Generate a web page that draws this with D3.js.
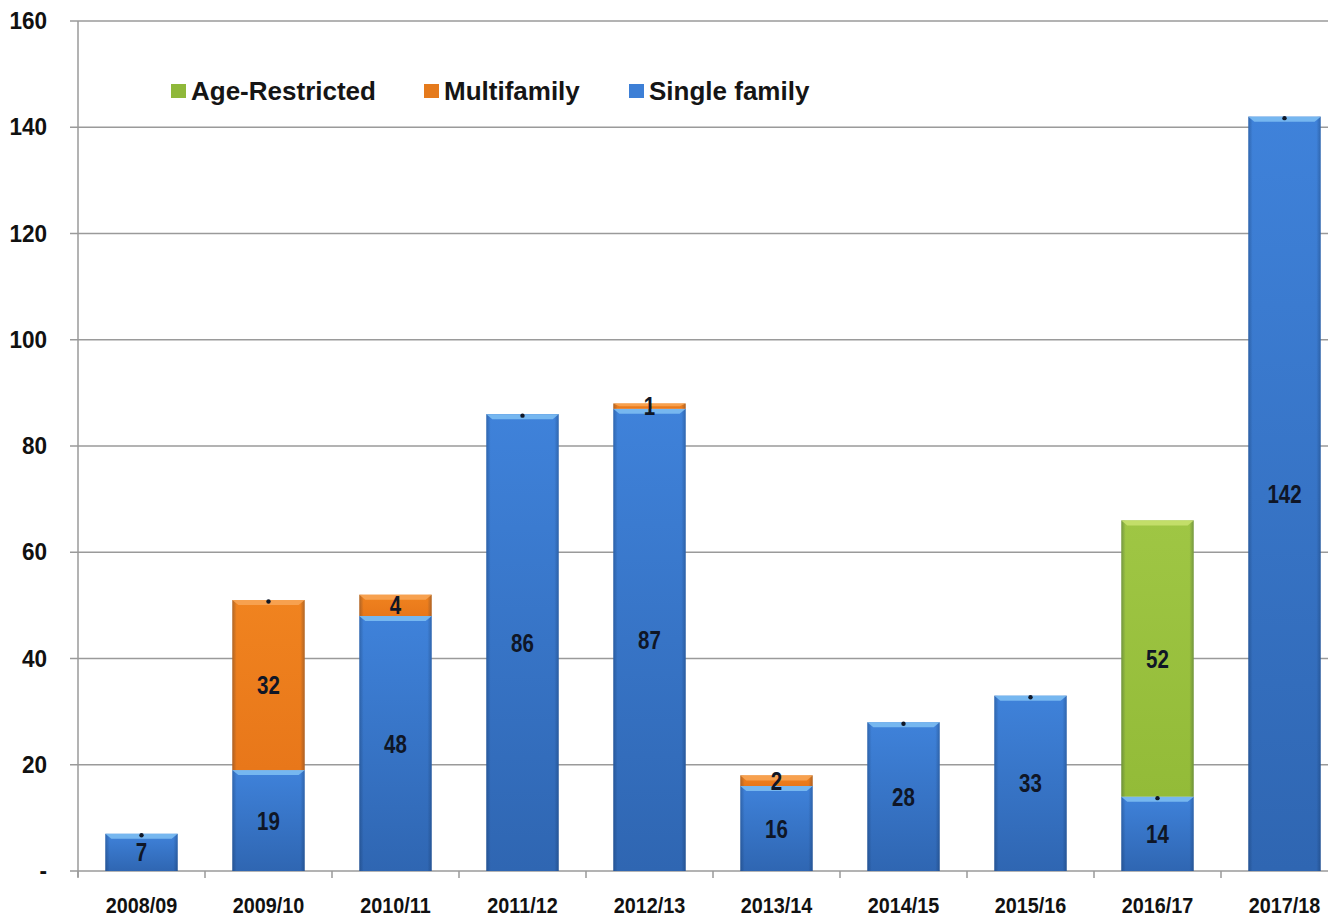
<!DOCTYPE html>
<html><head><meta charset="utf-8">
<script src="https://cdn.jsdelivr.net/npm/d3@7"></script>
<style>body{margin:0;background:#fff}svg{display:block}</style>
</head><body><svg id="c" width="1328" height="917"></svg>
<script>
const categories = ["2008/09","2009/10","2010/11","2011/12","2012/13","2013/14","2014/15","2015/16","2016/17","2017/18"];
const singleFamily = [7,19,48,86,87,16,28,33,14,142];
const multifamily = [0,32,4,0,1,2,0,0,0,0];
const ageRestricted = [0,0,0,0,0,0,0,0,52,0];
const yTicks = [0,20,40,60,80,100,120,140,160];
const seriesNames = ["Single family","Multifamily","Age-Restricted"];
const legendOrder = ["Age-Restricted","Multifamily","Single family"];

(function(){
const svg = d3.select("#c");
const mLeft = 78, mTop = 21, mBottom = 871;
const x = d3.scaleBand().domain(categories).range([mLeft, mLeft + 127*10]).paddingInner(0.43).paddingOuter(0.215);
const y = d3.scaleLinear().domain([0,160]).range([mBottom, mTop]);
const font = "'Liberation Sans',Arial,sans-serif";

const defs = svg.append("defs");
function vgrad(id, c1, c2){
  const g = defs.append("linearGradient").attr("id", id).attr("x1","0").attr("x2","0").attr("y1","0").attr("y2","1");
  g.append("stop").attr("offset","0").attr("stop-color",c1);
  g.append("stop").attr("offset","1").attr("stop-color",c2);
}
vgrad("gBlue","#3f82da","#2f66b2");
vgrad("gOrange","#f0831f","#e8771a");
vgrad("gGreen","#9fc644","#93bb38");
const eg = defs.append("linearGradient").attr("id","edge").attr("x1","0").attr("x2","1").attr("y1","0").attr("y2","0");
[[0,0.28],[0.06,0.0],[0.94,0.0],[1,0.28]].forEach(([o,a])=>eg.append("stop").attr("offset",o).attr("stop-color","#0a2040").attr("stop-opacity",a));
const fills = {"Single family":"url(#gBlue)","Multifamily":"url(#gOrange)","Age-Restricted":"url(#gGreen)"};
const tops = {"Single family":"#7cbcf2","Multifamily":"#f7a454","Age-Restricted":"#c6e06e"};
const swatch = {"Single family":"#3d7fd6","Multifamily":"#e57a1c","Age-Restricted":"#8fb83a"};

function ntext(g, tx, ty, str, size, anchor, sx){
  return g.append("text").attr("transform",`translate(${tx},${ty}) scale(${sx},1)`)
    .attr("text-anchor",anchor).attr("font-family",font).attr("font-weight","bold")
    .attr("font-size",size).attr("fill","#111").text(str);
}

svg.append("g").selectAll("line").data(yTicks).join("line")
  .attr("x1", mLeft-8).attr("x2", 1328).attr("y1", d=>y(d)).attr("y2", d=>y(d))
  .attr("stroke","#9a9a9a").attr("stroke-width",1.5);
svg.append("line").attr("x1",mLeft).attr("x2",mLeft).attr("y1",mTop).attr("y2",mBottom+6).attr("stroke","#9a9a9a").attr("stroke-width",1.5);
svg.append("g").selectAll("line").data(d3.range(0,11)).join("line")
  .attr("x1", i=>mLeft+127*i).attr("x2", i=>mLeft+127*i).attr("y1",mBottom).attr("y2",mBottom+7)
  .attr("stroke","#9a9a9a").attr("stroke-width",1.5);
const gy = svg.append("g");
yTicks.forEach(d=>ntext(gy, 47, y(d)+8, d===0 ? "-" : d, 23, "end", 0.98));
const gx = svg.append("g");
categories.forEach(d=>ntext(gx, x(d)+x.bandwidth()/2, 913, d, 22, "middle", 0.9));

const table = categories.map((c,i)=>({cat:c,"Single family":singleFamily[i],"Multifamily":multifamily[i],"Age-Restricted":ageRestricted[i]}));
const stack = d3.stack().keys(seriesNames)(table);

const gBars = svg.append("g");
stack.forEach(s=>{
  const key = s.key;
  const g = gBars.append("g");
  s.forEach(d=>{
    const v = d[1]-d[0];
    if (v<=0) return;
    const bx = x(d.data.cat), bw = x.bandwidth();
    const y0 = y(d[0]), y1 = y(d[1]);
    g.append("rect").attr("x",bx).attr("y",y1).attr("width",bw).attr("height",y0-y1).attr("fill",fills[key]);
    g.append("rect").attr("x",bx).attr("y",y1).attr("width",bw).attr("height",y0-y1).attr("fill","url(#edge)");
    const h = Math.min(5, (y0-y1)/2);
    g.append("path").attr("d",`M${bx},${y1}H${bx+bw}L${bx+bw-6},${y1+h}H${bx+6}Z`).attr("fill",tops[key]).attr("opacity",0.9);
  });
});
const gLab = svg.append("g");
stack.forEach(s=>{
  s.forEach(d=>{
    const v = d[1]-d[0];
    if (v>0){
      ntext(gLab, x(d.data.cat)+x.bandwidth()/2, (y(d[0])+y(d[1]))/2+9, v, 25, "middle", 0.82).attr("fill","#0f1626");
    }
  });
});
categories.forEach((c,i)=>{
  const tot = singleFamily[i]+multifamily[i]+ageRestricted[i];
  const topSeg = ageRestricted[i]>0 ? ageRestricted[i] : (multifamily[i]>0 ? multifamily[i] : singleFamily[i]);
  const hasZero = multifamily[i]===0 || ageRestricted[i]===0;
  if (!hasZero || topSeg < 6) return;
  const base = ageRestricted[i]===0 ? tot : singleFamily[i];
  gLab.append("circle").attr("cx",x(c)+x.bandwidth()/2).attr("cy",y(base)+1.5).attr("r",2.2).attr("fill","#101828");
});

const legendX = {"Age-Restricted":171,"Multifamily":424,"Single family":629};
const lg = svg.append("g");
legendOrder.forEach(k=>{
  lg.append("rect").attr("x",legendX[k]).attr("y",84).attr("width",15).attr("height",14).attr("fill",swatch[k]);
  lg.append("text").attr("x",legendX[k]+20).attr("y",100).attr("font-family",font).attr("font-weight","bold")
    .attr("font-size",26).attr("fill","#151515").text(k);
});
})();
</script></body></html>
